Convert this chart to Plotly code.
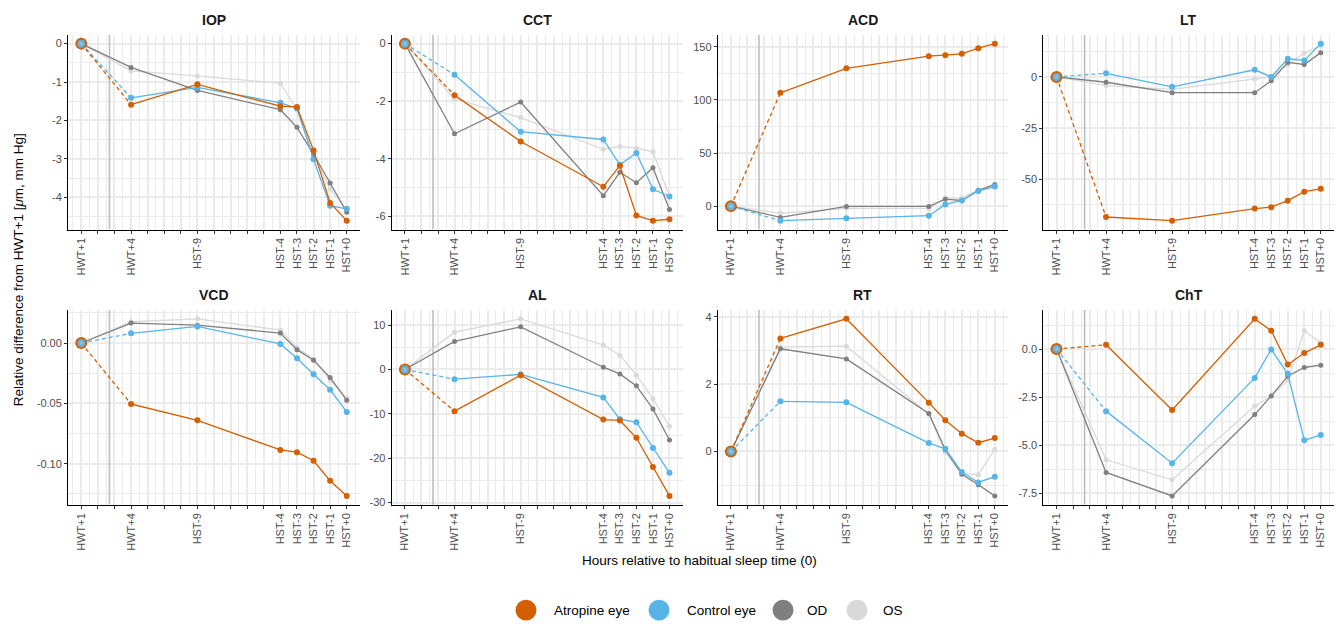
import plotly.graph_objects as go

# ---------------- data ----------------
time_labels = ["HWT+1", "HWT+4", "HST-9", "HST-4", "HST-3", "HST-2", "HST-1", "HST+0"]
time_hours = [-16, -13, -9, -4, -3, -2, -1, 0]
instill_hour = -14.3

groups = ["Atropine eye", "Control eye", "OD", "OS"]
measures = ["IOP", "CCT", "ACD", "LT", "VCD", "AL", "RT", "ChT"]

iop_atropine = [0, -1.59, -1.06, -1.63, -1.65, -2.78, -4.15, -4.61]
iop_control = [0, -1.41, -1.14, -1.54, -1.68, -3.01, -4.22, -4.30]
iop_od = [0, -0.62, -1.22, -1.72, -2.18, -2.88, -3.63, -4.39]
iop_os = [0, -0.71, -0.84, -1.03, -1.72, -2.92, -3.78, -4.32]

cct_atropine = [0, -1.79, -3.40, -4.97, -4.24, -5.97, -6.15, -6.10]
cct_control = [0, -1.08, -3.06, -3.33, -4.21, -3.80, -5.06, -5.31]
cct_od = [0, -3.13, -2.03, -5.28, -4.47, -4.83, -4.31, -5.76]
cct_os = [0, -1.92, -2.57, -3.67, -3.57, -3.63, -3.76, -5.31]

acd_atropine = [0, 106.8, 129.8, 141.3, 142.2, 143.5, 148.8, 153.1]
acd_control = [0, -13.7, -11.5, -9.0, 1.6, 5.3, 14.3, 18.4]
acd_od = [0, -10.6, -0.3, -0.3, 6.5, 5.3, 14.9, 20.5]
acd_os = [0, -6.8, -2.2, -2.2, 7.8, 7.8, 14.9, 18.7]

lt_atropine = [0, -68.5, -70.3, -64.4, -63.7, -60.5, -56.1, -54.7]
lt_control = [0, 1.8, -4.8, 3.5, 0.0, 8.9, 8.1, 16.3]
lt_od = [0, -2.6, -7.7, -7.7, -1.9, 7.1, 6.1, 11.9]
lt_os = [0, -4.2, -6.1, -1.0, 0.0, 6.1, 11.6, 15.3]

vcd_atropine = [0, -0.0505, -0.0640, -0.0885, -0.0904, -0.0975, -0.1140, -0.1266]
vcd_control = [0, 0.0080, 0.0137, -0.0008, -0.0126, -0.0258, -0.0387, -0.0571]
vcd_od = [0, 0.0165, 0.0148, 0.0082, -0.0055, -0.0143, -0.0286, -0.0473]
vcd_os = [0, 0.0176, 0.0200, 0.0107, -0.0038, -0.0132, -0.0308, -0.0456]

al_atropine = [0, -9.4, -1.3, -11.3, -11.5, -15.4, -22.0, -28.5]
al_control = [0, -2.2, -1.1, -6.3, -11.2, -11.9, -17.7, -23.3]
al_od = [0, 6.3, 9.6, 0.5, -1.0, -3.7, -8.9, -15.9]
al_os = [0, 8.4, 11.4, 5.5, 3.2, -1.3, -6.6, -12.8]

rt_atropine = [0, 3.36, 3.94, 1.45, 0.93, 0.53, 0.26, 0.40]
rt_control = [0, 1.49, 1.46, 0.25, 0.08, -0.61, -0.92, -0.75]
rt_od = [0, 3.05, 2.75, 1.13, 0.05, -0.68, -0.99, -1.32]
rt_os = [0, 3.10, 3.13, 1.11, -0.02, -0.66, -0.69, 0.06]

cht_atropine = [0, 0.22, -3.17, 1.57, 0.95, -0.81, -0.21, 0.22]
cht_control = [0, -3.23, -5.94, -1.50, -0.02, -1.29, -4.75, -4.47]
cht_od = [0, -6.42, -7.64, -3.41, -2.44, -1.41, -0.96, -0.84]
cht_os = [0, -5.76, -6.80, -2.96, -2.44, -1.63, 0.95, 0.31]

# y tick labels per panel
iop_ticks = [0, -1, -2, -3, -4]
iop_ticktext = ["0", "-1", "-2", "-3", "-4"]
cct_ticks = [0, -2, -4, -6]
cct_ticktext = ["0", "-2", "-4", "-6"]
acd_ticks = [0, 50, 100, 150]
acd_ticktext = ["0", "50", "100", "150"]
lt_ticks = [0, -25, -50]
lt_ticktext = ["0", "-25", "-50"]
vcd_ticks = [0, -0.05, -0.10]
vcd_ticktext = ["0.00", "-0.05", "-0.10"]
al_ticks = [10, 0, -10, -20, -30]
al_ticktext = ["10", "0", "-10", "-20", "-30"]
rt_ticks = [4, 2, 0]
rt_ticktext = ["4", "2", "0"]
cht_ticks = [0, -2.5, -5.0, -7.5]
cht_ticktext = ["0.0", "-2.5", "-5.0", "-7.5"]

table = {
    "IOP": ([iop_atropine, iop_control, iop_od, iop_os], iop_ticks, iop_ticktext),
    "CCT": ([cct_atropine, cct_control, cct_od, cct_os], cct_ticks, cct_ticktext),
    "ACD": ([acd_atropine, acd_control, acd_od, acd_os], acd_ticks, acd_ticktext),
    "LT": ([lt_atropine, lt_control, lt_od, lt_os], lt_ticks, lt_ticktext),
    "VCD": ([vcd_atropine, vcd_control, vcd_od, vcd_os], vcd_ticks, vcd_ticktext),
    "AL": ([al_atropine, al_control, al_od, al_os], al_ticks, al_ticktext),
    "RT": ([rt_atropine, rt_control, rt_od, rt_os], rt_ticks, rt_ticktext),
    "ChT": ([cht_atropine, cht_control, cht_od, cht_os], cht_ticks, cht_ticktext),
}

# ---------------- style ----------------
W, H = 1340, 626
colors = {"Atropine eye": "#D55E00", "Control eye": "#56B4E9", "OD": "#7F7F7F", "OS": "#D9D9D9"}
msize = {"Atropine eye": 6, "Control eye": 6, "OD": 5, "OS": 5}
dashed_first = {"Atropine eye": True, "Control eye": True, "OD": False, "OS": False}
draw_order = ["OS", "OD", "Control eye", "Atropine eye"]
FONT = "Liberation Sans, Arial, Helvetica, sans-serif"
GRID = "#EBEBEB"

col_left = [68, 391.7, 717.7, 1043.3]
col_right = [360, 682.7, 1008, 1334]
row_top = [35, 312]
row_bot = [231, 508]

fig = go.Figure()
annotations = []
shapes = []

all_hours = list(range(-16, 1))
hour_text = [time_labels[time_hours.index(h)] if h in time_hours else "" for h in all_hours]
xr = [time_hours[0] - 0.05 * (time_hours[-1] - time_hours[0]),
      time_hours[-1] + 0.05 * (time_hours[-1] - time_hours[0])]

for i, m in enumerate(measures):
    r, c = divmod(i, 4)
    series, ticks, ticktext = table[m]
    xa = "x" if i == 0 else f"x{i+1}"
    ya = "y" if i == 0 else f"y{i+1}"
    xkey = "xaxis" if i == 0 else f"xaxis{i+1}"
    ykey = "yaxis" if i == 0 else f"yaxis{i+1}"

    vals = [v for s in series for v in s]
    lo, hi = min(vals), max(vals)
    pad = 0.05 * (hi - lo)
    yr = [lo - pad, hi + pad]
    major_step = abs(ticks[1] - ticks[0])

    fig.layout[xkey] = dict(
        domain=[col_left[c] / W, col_right[c] / W], anchor=ya, range=xr,
        tickmode="array", tickvals=all_hours, ticktext=hour_text, tickangle=-90,
        showgrid=True, gridcolor=GRID, gridwidth=1.6,
        minor=dict(dtick=0.5, tick0=-16.5, showgrid=True, gridcolor=GRID, gridwidth=0.8, ticks=""),
        showline=True, linecolor="#000000", linewidth=1,
        ticks="outside", ticklen=3, tickcolor="#333333", tickwidth=1,
        tickfont=dict(family=FONT, size=11, color="#4D4D4D"),
        zeroline=False, fixedrange=True,
    )
    fig.layout[ykey] = dict(
        domain=[1 - row_bot[r] / H, 1 - row_top[r] / H], anchor=xa, range=yr,
        tickmode="array", tickvals=ticks, ticktext=ticktext,
        showgrid=True, gridcolor=GRID, gridwidth=1.6,
        minor=dict(dtick=major_step / 2, tick0=ticks[0] + major_step / 2, showgrid=True,
                   gridcolor=GRID, gridwidth=0.8, ticks=""),
        showline=True, linecolor="#000000", linewidth=1,
        ticks="outside", ticklen=3, tickcolor="#333333", tickwidth=1,
        tickfont=dict(family=FONT, size=11, color="#4D4D4D"),
        zeroline=False, fixedrange=True,
    )

    # vertical instillation line (as a trace so it sits above the grid, below the data)
    fig.add_trace(go.Scatter(x=[instill_hour, instill_hour], y=yr, mode="lines",
                             line=dict(color="#BEBEBE", width=1.6),
                             xaxis=xa, yaxis=ya, showlegend=False, hoverinfo="skip"))

    for g in draw_order:
        s = series[groups.index(g)]
        col = colors[g]
        if dashed_first[g]:
            fig.add_trace(go.Scatter(x=time_hours[:2], y=s[:2], mode="lines",
                                     line=dict(color=col, width=1.3, dash="4px,3px"),
                                     xaxis=xa, yaxis=ya, showlegend=False, hoverinfo="skip"))
            fig.add_trace(go.Scatter(x=time_hours[1:], y=s[1:], mode="lines+markers",
                                     line=dict(color=col, width=1.3),
                                     marker=dict(color=col, size=msize[g]),
                                     xaxis=xa, yaxis=ya, showlegend=False, name=g))
        else:
            fig.add_trace(go.Scatter(x=time_hours, y=s, mode="lines+markers",
                                     line=dict(color=col, width=1.3),
                                     marker=dict(color=col, size=msize[g]),
                                     xaxis=xa, yaxis=ya, showlegend=False, name=g))
    # baseline markers at HWT+1
    for g, sz in [("Atropine eye", 12), ("Control eye", 8), ("OS", 4)]:
        s = series[groups.index(g)]
        fig.add_trace(go.Scatter(x=[time_hours[0]], y=[s[0]], mode="markers",
                                 marker=dict(color=colors[g] if g != "OS" else "#A8B8C0", size=sz),
                                 xaxis=xa, yaxis=ya, showlegend=False, hoverinfo="skip"))

    # panel title
    annotations.append(dict(text=f"<b>{m}</b>", x=(col_left[c] + col_right[c]) / 2 / W,
                            y=1 - (row_top[r] - 15) / H, xref="paper", yref="paper",
                            showarrow=False, font=dict(family=FONT, size=14, color="#1A1A1A"),
                            xanchor="center", yanchor="middle"))

# axis titles
annotations.append(dict(text="Relative difference from HWT+1 [<i>μ</i>m, mm Hg]", x=18 / W, y=1 - 272 / H,
                        xref="paper", yref="paper", showarrow=False, textangle=-90,
                        font=dict(family=FONT, size=13.5, color="#000000"),
                        xanchor="center", yanchor="middle"))
annotations.append(dict(text="Hours relative to habitual sleep time (0)", x=700 / W, y=1 - 564 / H,
                        xref="paper", yref="paper", showarrow=False,
                        font=dict(family=FONT, size=13.5, color="#000000"),
                        xanchor="center", yanchor="middle"))

# manual legend
leg_circle_x = [526, 659, 783, 857]
leg_text_x = [552, 685, 805, 881]
leg_y = 614
rad = 10.5
for g, cx, tx in zip(groups, leg_circle_x, leg_text_x):
    shapes.append(dict(type="circle", xref="paper", yref="paper",
                       x0=(cx - rad) / W, x1=(cx + rad) / W,
                       y0=1 - (leg_y + rad) / H, y1=1 - (leg_y - rad) / H,
                       fillcolor=colors[g], line=dict(width=0)))
    annotations.append(dict(text=g, x=tx / W, y=1 - leg_y / H, xref="paper", yref="paper",
                            showarrow=False, font=dict(family=FONT, size=13.5, color="#000000"),
                            xanchor="left", yanchor="middle"))

fig.update_layout(
    width=W, height=H, margin=dict(l=0, r=0, t=0, b=0),
    paper_bgcolor="white", plot_bgcolor="white",
    showlegend=False, annotations=annotations, shapes=shapes,
)

fig.write_html("out.html", config={"displayModeBar": False},
               post_script="document.body.style.margin='0px';")
